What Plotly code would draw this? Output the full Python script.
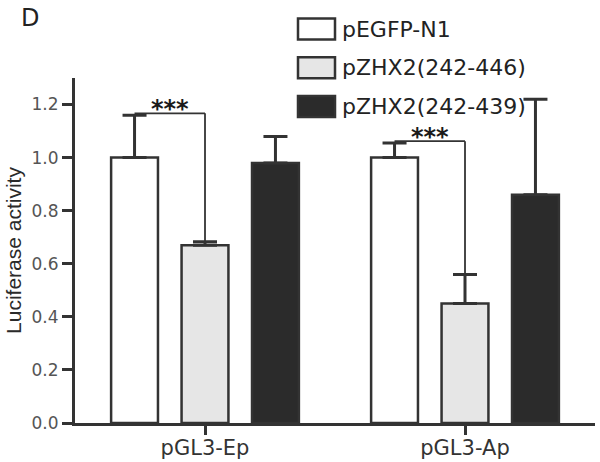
import plotly.graph_objects as go

# luciferase assay, normalised to pEGFP-N1
promoters = ['pGL3-Ep', 'pGL3-Ap']
constructs = ['pEGFP-N1', 'pZHX2(242-446)', 'pZHX2(242-439)']
activity = [
    [1.00, 1.00],   # pEGFP-N1
    [0.67, 0.45],   # pZHX2(242-446)
    [0.98, 0.86],   # pZHX2(242-439)
]
sd = [
    [0.16, 0.055],
    [0.013, 0.11],
    [0.10, 0.36],
]
fills = ['#ffffff', '#e6e6e6', '#2b2b2b']
y_ticks = [0.0, 0.2, 0.4, 0.6, 0.8, 1.0, 1.2]
sig_label = '***'

OUTLINE = '#333333'
FONT = 'DejaVu Sans'
W, H = 600, 462
ML, MR, MT, MB = 75, 5, 78, 39
BARGAP, GROUPGAP = 0.187, 0.335


def px_x(p):
    return (p - ML) / (W - ML - MR)


def px_y(p):
    return (H - MB - p) / (H - MT - MB)


fig = go.Figure()
for name, vals, err, col in zip(constructs, activity, sd, fills):
    fig.add_trace(go.Bar(
        x=promoters, y=vals, name=name,
        marker=dict(color=col, line=dict(color=OUTLINE, width=2.5)),
        error_y=dict(type='data', array=err, arrayminus=[0] * len(err),
                     symmetric=False, color=OUTLINE, thickness=3, width=12),
        showlegend=False,
    ))

# significance brackets between the first two constructs of each group
slot = (1 - BARGAP) / len(constructs)
for i in range(len(promoters)):
    top_a = activity[0][i] + sd[0][i]
    top_b = activity[1][i] + sd[1][i]
    yb = top_a + 0.007
    xa, xb = i - slot, i
    fig.add_shape(type='line', xref='x', yref='y', x0=xa, x1=xb, y0=yb, y1=yb,
                  line=dict(color=OUTLINE, width=1.8))
    fig.add_shape(type='line', xref='x', yref='y', x0=xb, x1=xb, y0=top_b, y1=yb,
                  line=dict(color=OUTLINE, width=1.8))
    fig.add_annotation(x=(xa + xb) / 2, y=yb, xref='x', yref='y', text=sig_label,
                       showarrow=False, yanchor='middle', yshift=4,
                       font=dict(family=FONT, size=24, color='#1a1a1a', weight='bold'))

# hand-drawn legend with wide boxes
for k, (name, col) in enumerate(zip(constructs, fills)):
    cy = 29 + k * 38.8
    fig.add_shape(type='rect', xref='paper', yref='paper',
                  x0=px_x(298), x1=px_x(335), y0=px_y(cy + 10.5), y1=px_y(cy - 10.5),
                  fillcolor=col, line=dict(color=OUTLINE, width=2.5))
    fig.add_annotation(x=px_x(340), y=px_y(cy), xref='paper', yref='paper',
                       text=name, showarrow=False, xanchor='left', yanchor='middle',
                       font=dict(family=FONT, size=22, color='#222222'))

fig.add_annotation(x=px_x(19), y=px_y(2), xref='paper', yref='paper', text='D',
                   showarrow=False, xanchor='left', yanchor='top',
                   font=dict(family=FONT, size=24, color='#222222'))

fig.update_layout(
    width=W, height=H,
    margin=dict(l=ML, r=MR, t=MT, b=MB),
    plot_bgcolor='white', paper_bgcolor='white',
    barmode='group', bargap=BARGAP, bargroupgap=GROUPGAP,
    font=dict(family=FONT, color='#444444'),
    xaxis=dict(range=[-0.5, 1.5], showline=True, linecolor=OUTLINE, linewidth=3,
               ticks='outside', ticklen=9, tickwidth=3, tickcolor=OUTLINE,
               ticklabelstandoff=-5, automargin=False,
               tickfont=dict(size=21, color='#333333'), showgrid=False,
               zeroline=False),
    yaxis=dict(range=[0, 1.3], showline=True, linecolor=OUTLINE, linewidth=3,
               ticks='outside', ticklen=10, tickwidth=3, tickcolor=OUTLINE,
               tickvals=y_ticks, tickformat='.1f', automargin=False,
               tickfont=dict(size=17, color='#555555'), showgrid=False,
               zeroline=False,
               title=dict(text='Luciferase activity', standoff=5,
                          font=dict(family='Liberation Sans', size=21, color='#2a2a2a'))),
)

# drop the browser's default body margin so the figure fills the window
fig.write_html('out.html', config={'displayModeBar': False},
               post_script="document.body.style.margin='0';")
